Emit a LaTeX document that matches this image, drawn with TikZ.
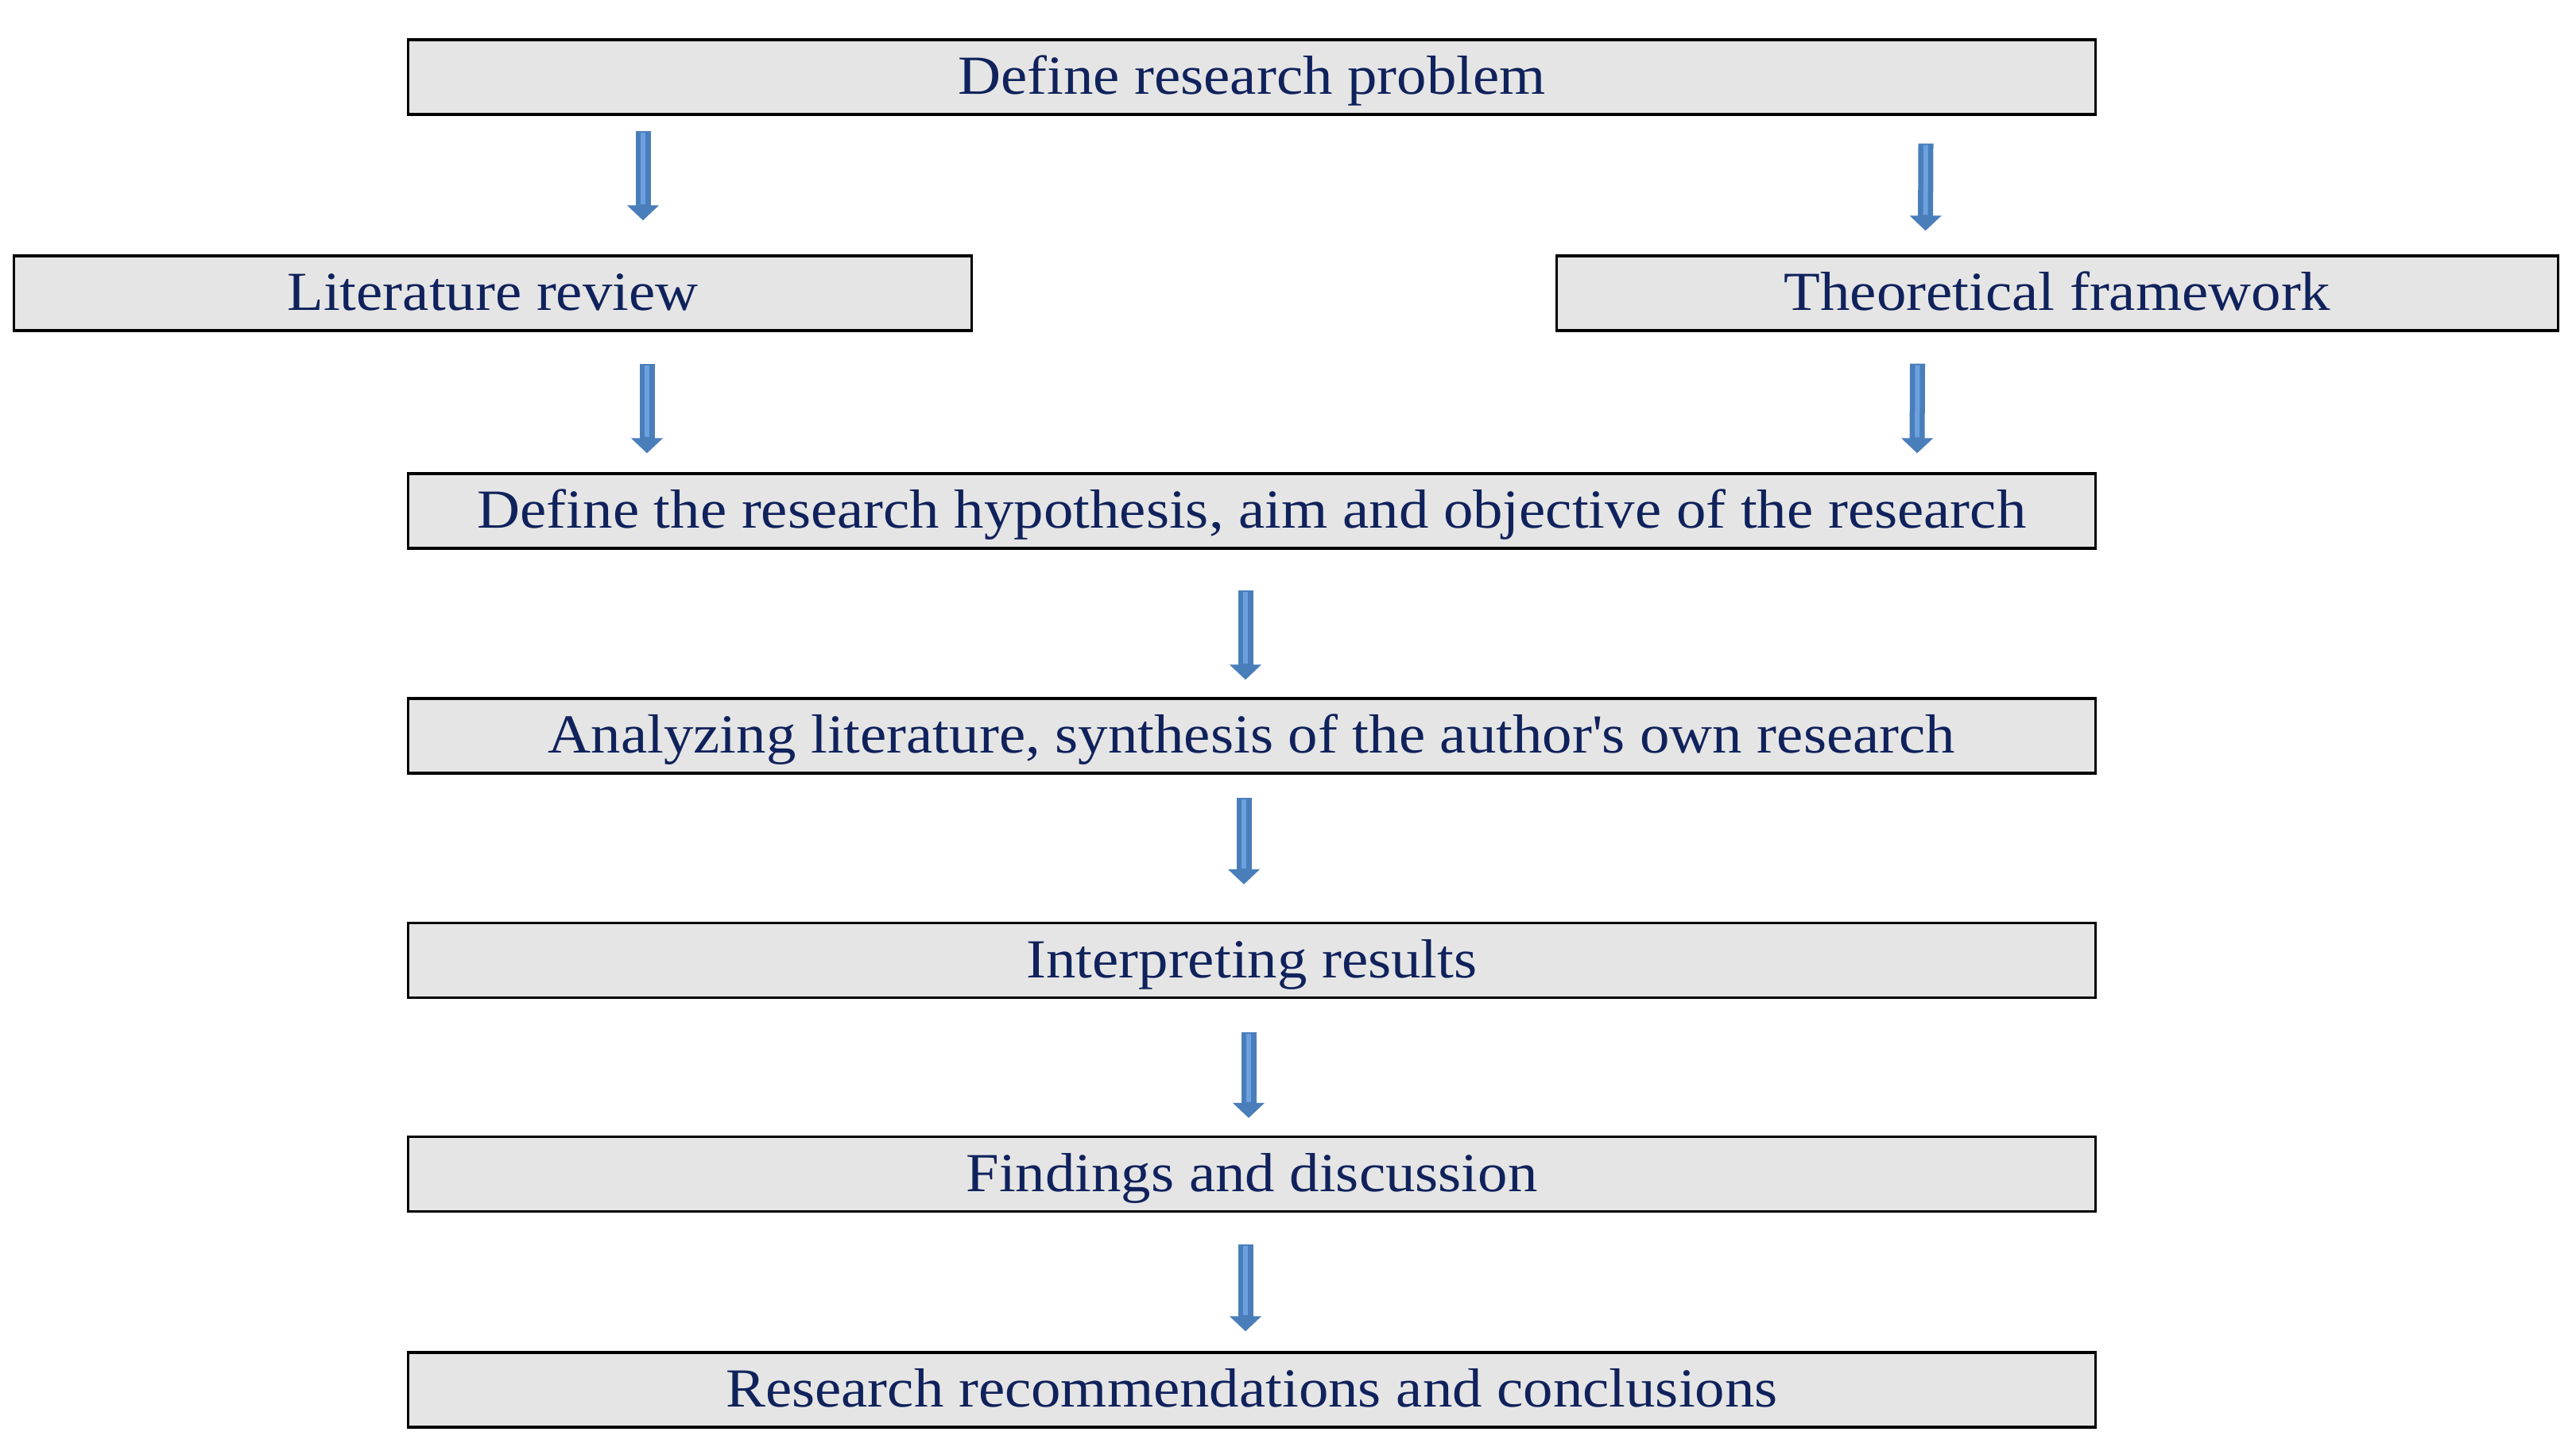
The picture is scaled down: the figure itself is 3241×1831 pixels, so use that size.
\documentclass[tikz,border=0pt]{standalone}
\usepackage{fontspec}
\setmainfont[FakeStretch=1.08]{Liberation Serif}
\usepackage{xcolor}
\usepackage{tikz}
\usetikzlibrary{arrows.meta, positioning, calc}
\definecolor{navytext}{RGB}{16,34,92}
\definecolor{flowblue}{RGB}{74,126,187}
\definecolor{flowlight}{RGB}{108,160,222}
\tikzset{
  stage/.style={rectangle, draw=black, line width=0.9pt, fill=gray!20,
                minimum height=0.94cm, inner sep=0pt, text=navytext,
                text height=17.5pt, text depth=5pt,
                font=\fontsize{19.7}{23}\selectfont},
  flow/.style={line width=0.19cm, draw=flowblue,
               -{Triangle[width=0.39cm, length=0.19cm]},
               postaction={draw=flowlight, line width=0.06cm, arrows=-,
                           shorten >=0.2cm, shorten <=0.02cm}}
}
\begin{document}
\begin{tikzpicture}[x=0.01cm, y=-0.01cm]
  \useasboundingbox (0,0) rectangle (3241,1831);
  \node[stage, minimum width=21.22cm] (prob)   at (1575,97)   {Define research problem};
  \node[stage, minimum width=12.04cm] (lit)    at (620,369)   {Literature review};
  \node[stage, minimum width=12.59cm] (theo)   at (2588.5,369) {Theoretical framework};
  \node[stage, minimum width=21.22cm] (hyp)    at (1575,643)  {Define the research hypothesis, aim and objective of the research};
  \node[stage, minimum width=21.22cm] (ana)    at (1575,926)  {Analyzing literature, synthesis of the author\textquotesingle s own research};
  \node[stage, minimum width=21.22cm] (interp) at (1575,1208.5) {Interpreting results};
  \node[stage, minimum width=21.22cm] (find)   at (1575,1477.5) {Findings and discussion};
  \node[stage, minimum width=21.22cm] (recom)  at (1575,1749) {Research recommendations and conclusions};

  \draw[flow] ($(prob.south)+(-766,19)$) -- ($(lit.north)+(189,-43)$);
  \draw[flow] ($(prob.south)+(848,35)$) -- ($(theo.north)+(-166,-30)$);
  \draw[flow] ($(lit.south)+(194,40)$) -- ($(hyp.north)+(-761,-24)$);
  \draw[flow] ($(theo.south)+(-176,40)$) -- ($(hyp.north)+(837,-24)$);
  \draw[flow] ($(hyp.south)+(-8,51)$) -- ($(ana.north)+(-8,-22)$);
  \draw[flow] ($(ana.south)+(-10,29)$) -- ($(interp.north)+(-10,-47)$);
  \draw[flow] ($(interp.south)+(-4,42)$) -- ($(find.north)+(-4,-22)$);
  \draw[flow] ($(find.south)+(-8,40)$) -- ($(recom.north)+(-8,-25)$);
\end{tikzpicture}
\end{document}
